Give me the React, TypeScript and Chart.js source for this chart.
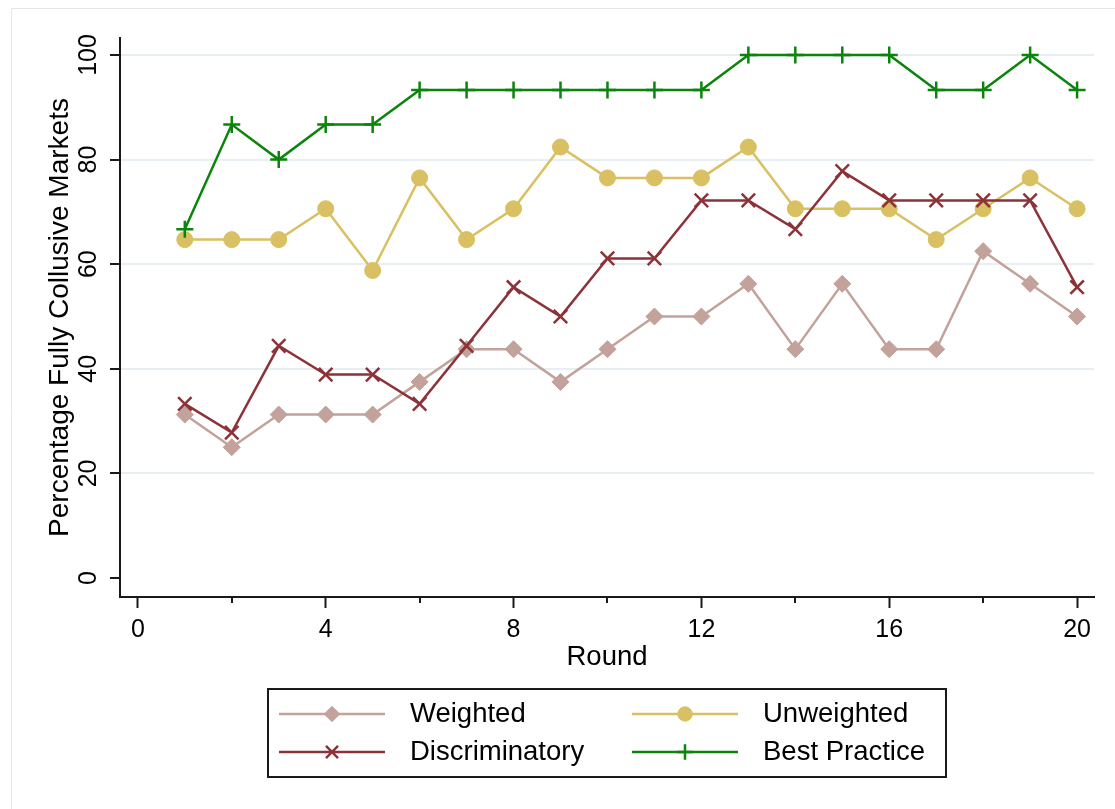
import React, { useEffect, useRef } from 'react';
import { Chart, registerables } from 'chart.js';
import { drawPoint } from 'chart.js/helpers';

Chart.register(...registerables);

// Share of fully collusive markets (%) per round, by treatment
const rounds = [1, 2, 3, 4, 5, 6, 7, 8, 9, 10, 11, 12, 13, 14, 15, 16, 17, 18, 19, 20];
const weighted = [31.25, 25, 31.25, 31.25, 31.25, 37.5, 43.75, 43.75, 37.5, 43.75, 50, 50, 56.25, 43.75, 56.25, 43.75, 43.75, 62.5, 56.25, 50];
const unweighted = [64.7, 64.7, 64.7, 70.6, 58.8, 76.5, 64.7, 70.6, 82.4, 76.5, 76.5, 76.5, 82.4, 70.6, 70.6, 70.6, 64.7, 70.6, 76.5, 70.6];
const discriminatory = [33.3, 27.8, 44.4, 38.9, 38.9, 33.3, 44.4, 55.6, 50, 61.1, 61.1, 72.2, 72.2, 66.7, 77.8, 72.2, 72.2, 72.2, 72.2, 55.6];
const bestPractice = [66.7, 86.7, 80, 86.7, 86.7, 93.3, 93.3, 93.3, 93.3, 93.3, 93.3, 93.3, 100, 100, 100, 100, 93.3, 93.3, 100, 93.3];

const seriesLabels = ['Weighted', 'Unweighted', 'Discriminatory', 'Best Practice'];

// Axis ticks
const yTicks = [0, 20, 40, 60, 80, 100];
const xTicks = [0, 4, 8, 12, 16, 20];
const xMinorTicks = [2, 6, 10, 14, 18];

const X_MIN = -0.38;
const X_MAX = 20.36;
const Y_MIN = -3.63;
const Y_MAX = 103.25;

const FONT = '"Liberation Sans", Arial, Helvetica, sans-serif';
const INK = '#1a1a1a';
const GRID = '#e8eff2';

const W = 1115;
const H = 809;

const toPoints = (values: number[]) => values.map((v, i) => ({ x: rounds[i], y: v }));

// Light outer frame and white page behind the plot
const framePlugin = {
  id: 'frame',
  beforeDraw(chart: Chart) {
    const { ctx } = chart;
    ctx.save();
    ctx.fillStyle = '#ffffff';
    ctx.fillRect(0, 0, chart.width, chart.height);
    ctx.strokeStyle = '#e3e7e8';
    ctx.lineWidth = 1;
    ctx.beginPath();
    ctx.moveTo(11.5, chart.height);
    ctx.lineTo(11.5, 8.5);
    ctx.lineTo(chart.width, 8.5);
    ctx.stroke();
    ctx.restore();
  },
};

// Short unlabelled ticks between the labelled rounds
const minorTickPlugin = {
  id: 'minorTicks',
  afterDraw(chart: Chart) {
    const { ctx, chartArea } = chart;
    const xs = chart.scales.x;
    ctx.save();
    ctx.strokeStyle = INK;
    ctx.lineWidth = 2;
    ctx.beginPath();
    xMinorTicks.forEach((v) => {
      const px = Math.round(xs.getPixelForValue(v));
      ctx.moveTo(px, chartArea.bottom);
      ctx.lineTo(px, chartArea.bottom + 6);
    });
    ctx.stroke();
    ctx.restore();
  },
};

// Boxed two-column legend below the plot
const boxLegendPlugin = {
  id: 'boxLegend',
  afterDraw(chart: Chart) {
    const { ctx } = chart;
    const cols = [279, 632];
    const rows = [714, 752];
    ctx.save();
    ctx.strokeStyle = INK;
    ctx.lineWidth = 2;
    ctx.strokeRect(268, 689, 678, 88);
    chart.data.datasets.forEach((ds: any, i: number) => {
      const x0 = cols[i % 2];
      const y = rows[Math.floor(i / 2)];
      ctx.strokeStyle = ds.borderColor;
      ctx.lineWidth = ds.borderWidth;
      ctx.beginPath();
      ctx.moveTo(x0, y);
      ctx.lineTo(x0 + 106, y);
      ctx.stroke();
      ctx.fillStyle = ds.pointBackgroundColor;
      ctx.strokeStyle = ds.pointBorderColor;
      ctx.lineWidth = ds.pointBorderWidth;
      drawPoint(ctx, { pointStyle: ds.pointStyle, radius: ds.pointRadius * 0.9, borderWidth: ds.pointBorderWidth, rotation: 0 } as any, x0 + 53, y);
      ctx.fillStyle = '#000000';
      ctx.font = `27.5px ${FONT}`;
      ctx.textAlign = 'left';
      ctx.textBaseline = 'middle';
      ctx.fillText(ds.label, x0 + 131, y);
    });
    ctx.restore();
  },
};

export default function App() {
  const canvasRef = useRef<HTMLCanvasElement | null>(null);

  useEffect(() => {
    const canvas = canvasRef.current;
    if (!canvas) return;

    const series = [
      { label: seriesLabels[0], data: weighted, color: '#c2a29a', style: 'rectRot', radius: 8.5, pbw: 1, order: 4 },
      { label: seriesLabels[1], data: unweighted, color: '#d9c062', style: 'circle', radius: 8, pbw: 1, order: 3 },
      { label: seriesLabels[2], data: discriminatory, color: '#8c3238', style: 'crossRot', radius: 9.5, pbw: 2.5, order: 2 },
      { label: seriesLabels[3], data: bestPractice, color: '#0a840a', style: 'cross', radius: 8.5, pbw: 2.5, order: 1 },
    ];

    const chart = new Chart(canvas, {
      type: 'line',
      data: {
        datasets: series.map((s) => ({
          label: s.label,
          data: toPoints(s.data),
          borderColor: s.color,
          backgroundColor: s.color,
          borderWidth: 2.5,
          pointStyle: s.style as any,
          pointRadius: s.radius,
          pointBackgroundColor: s.color,
          pointBorderColor: s.color,
          pointBorderWidth: s.pbw,
          tension: 0,
          fill: false,
          order: s.order,
          clip: false as any,
        })),
      },
      options: {
        animation: false,
        responsive: false,
        maintainAspectRatio: false,
        layout: { padding: { top: 38, right: 21, left: 0, bottom: 0 } },
        plugins: {
          legend: { display: false },
          tooltip: { enabled: false },
        },
        scales: {
          x: {
            type: 'linear',
            min: X_MIN,
            max: X_MAX,
            afterBuildTicks: (s: any) => {
              s.ticks = xTicks.map((v) => ({ value: v }));
            },
            afterFit: (s: any) => {
              s.height = 212;
            },
            grid: { drawOnChartArea: false, drawTicks: true, tickLength: 11, tickWidth: 2, tickColor: INK },
            border: { display: true, color: INK, width: 2 },
            ticks: {
              autoSkip: false,
              minRotation: 0,
              maxRotation: 0,
              padding: 7,
              color: '#000000',
              font: { family: FONT, size: 25 },
              callback: (v: any) => String(v),
            },
            title: {
              display: true,
              text: 'Round',
              color: '#000000',
              font: { family: FONT, size: 27.5, lineHeight: 1 },
              padding: { top: 0, bottom: 138 },
            },
          },
          y: {
            type: 'linear',
            min: Y_MIN,
            max: Y_MAX,
            afterBuildTicks: (s: any) => {
              s.ticks = yTicks.map((v) => ({ value: v }));
            },
            afterFit: (s: any) => {
              s.width = 120;
            },
            grid: {
              color: (c: any) => (c.tick && c.tick.value === 0 ? 'rgba(0,0,0,0)' : GRID),
              lineWidth: 2,
              drawTicks: true,
              tickLength: 10,
              tickWidth: 2,
              tickColor: INK,
            },
            border: { display: true, color: INK, width: 2 },
            ticks: {
              minRotation: 90,
              maxRotation: 90,
              crossAlign: 'center',
              padding: 0,
              color: '#000000',
              font: { family: FONT, size: 25 },
              callback: (v: any) => String(v),
            },
            title: {
              display: true,
              text: 'Percentage Fully Collusive Markets',
              color: '#000000',
              font: { family: FONT, size: 28, lineHeight: 1 },
              padding: { top: 46, bottom: 0 },
            },
          },
        },
      },
      plugins: [framePlugin, minorTickPlugin, boxLegendPlugin],
    });

    return () => chart.destroy();
  }, []);

  return (
    <div style={{ position: 'absolute', left: 0, top: 0, width: W, height: H, overflow: 'hidden', background: '#ffffff' }}>
      <canvas ref={canvasRef} width={W} height={H} style={{ display: 'block', width: W, height: H }} />
    </div>
  );
}
